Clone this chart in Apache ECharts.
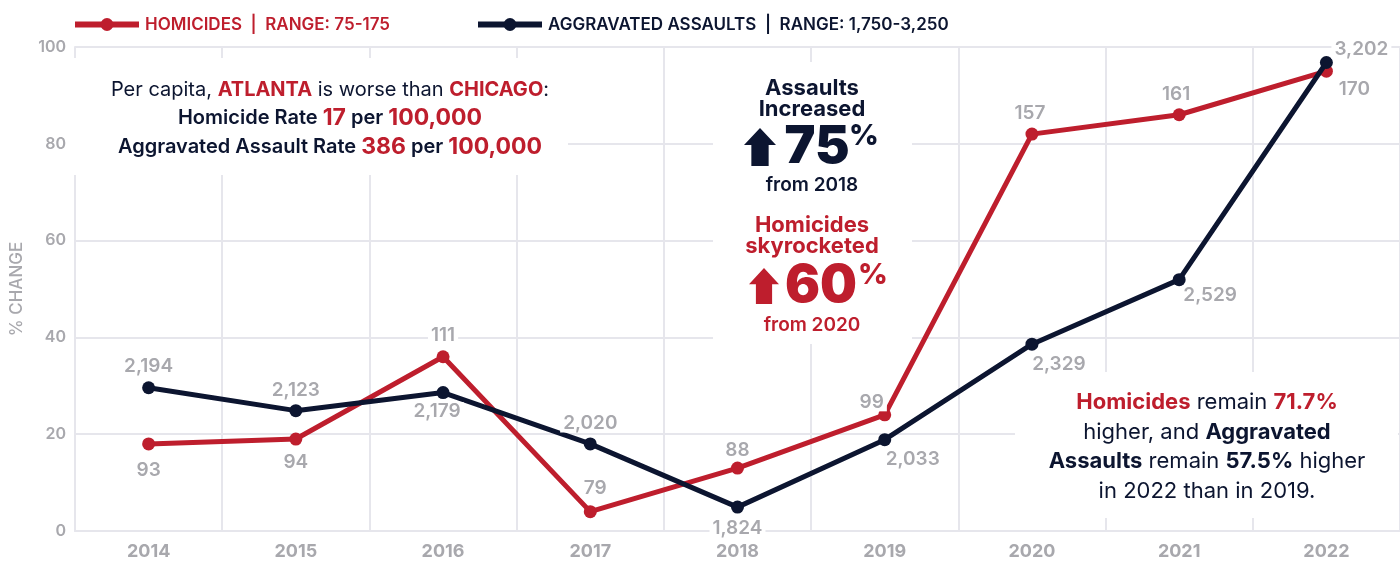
<!DOCTYPE html>
<html><head><meta charset="utf-8">
<script src="https://cdn.jsdelivr.net/npm/echarts@6/dist/echarts.min.js"></script>
<style>html,body{margin:0;padding:0;background:#fff}#c{width:1400px;height:561px}</style>
</head><body><div id="c"></div>
<script>
// ---- data ----
const years = ['2014','2015','2016','2017','2018','2019','2020','2021','2022'];
const homicides = [93, 94, 111, 79, 88, 99, 157, 161, 170];
const assaults = [2194, 2123, 2179, 2020, 1824, 2033, 2329, 2529, 3202];
const homicideRange = [75, 175];
const assaultRange = [1750, 3250];
const yTicks = [0, 20, 40, 60, 80, 100];

// label offsets (style only)
const homOff = [[0,26],[0,23],[0,-21],[5,-23],[0,-18],[-13,-13],[-2,-21],[-3,-20],[28,18]];
const asOff = [[0,-21],[0,-20],[-6,19],[0,-21],[0,21],[28,20],[27,20],[31,16],[35,-13]];

const RED = '#be1e2d', NAVY = '#0c1530', GRAY = '#a8a8ad', GRID = '#e6e6ec';
const FONT = 'Inter, "Open Sans", sans-serif';

function pct(v, r) { return (v - r[0]) / (r[1] - r[0]) * 100; }

function seriesData(vals, range, offs) {
  return vals.map((v, i) => ({
    value: pct(v, range),
    raw: v,
    label: { offset: offs[i] }
  }));
}

const labelBase = {
  show: true, position: 'inside', color: GRAY, fontFamily: FONT, fontSize: 19, fontWeight: 600,
  backgroundColor: '#fff', padding: [0, 3],
  formatter: p => p.data.raw.toLocaleString('en-US')
};

const chart = echarts.init(document.getElementById('c'));

function txt(x, y, rich, text) {
  return {
    type: 'text', x: x, y: y, z: 5,
    style: { text: text, rich: rich, align: 'center', verticalAlign: 'middle', fontFamily: FONT }
  };
}
function arrow(cx, top, bottom, w, color) {
  const hw = w / 2, sw = w * 0.27, headH = (bottom - top) * 0.45;
  return {
    type: 'polygon', z: 5,
    shape: { points: [[cx, top], [cx + hw, top + headH], [cx + sw, top + headH], [cx + sw, bottom], [cx - sw, bottom], [cx - sw, top + headH], [cx - hw, top + headH]] },
    style: { fill: color }
  };
}

const F = FONT;
function st(size, fill, weight) { return { fontFamily: F, fontSize: size, fill: fill, fontWeight: weight }; }
const richA = {
  n: st(20, NAVY, 400),
  r: st(20, RED, 700),
  b: st(20, NAVY, 600),
  R: st(23, RED, 700)
};
const richC = {
  h: st(22, NAVY, 700),
  hr: st(22, RED, 700),
  s: st(19, NAVY, 600),
  sr: st(19, RED, 600),
  big: st(52, NAVY, 900),
  bigr: st(52, RED, 900),
  p: st(29, NAVY, 800),
  pr: st(29, RED, 800)
};
const richB = {
  n: st(22, NAVY, 400),
  b: st(22, NAVY, 700),
  r: st(22, RED, 700)
};

const legendCommon = {
  top: 11, itemWidth: 64, itemHeight: 16, itemGap: 0,
  lineStyle: { width: 6 },
  textStyle: { fontFamily: F, fontSize: 17, fontWeight: 600, padding: [0, 0, 0, 1] }
};

const option = {
  animation: false,
  backgroundColor: '#fff',
  grid: { left: 68, right: 0, top: 47, bottom: 30 },
  legend: [
    Object.assign({ left: 67, data: [{ name: 'HOMICIDES  |  RANGE: 75-175', textStyle: { color: RED } }] }, legendCommon),
    Object.assign({ left: 470, data: [{ name: 'AGGRAVATED ASSAULTS  |  RANGE: 1,750-3,250', textStyle: { color: NAVY } }] }, legendCommon)
  ],
  xAxis: {
    type: 'category', data: years, boundaryGap: true,
    axisLine: { lineStyle: { color: GRID, width: 2 } },
    axisTick: { show: false },
    axisLabel: { color: GRAY, fontFamily: F, fontSize: 18, fontWeight: 700, margin: 12 },
    splitLine: { show: true, lineStyle: { color: GRID, width: 2 } }
  },
  yAxis: {
    type: 'value', min: yTicks[0], max: yTicks[yTicks.length - 1], interval: yTicks[1] - yTicks[0],
    name: '% CHANGE', nameLocation: 'middle', nameGap: 50,
    nameTextStyle: { color: GRAY, fontFamily: F, fontSize: 17, fontWeight: 500 },
    axisLine: { show: true, lineStyle: { color: GRID, width: 2 } },
    axisTick: { show: false },
    axisLabel: { color: GRAY, fontFamily: F, fontSize: 16, fontWeight: 600, margin: 9 },
    splitLine: { show: true, lineStyle: { color: GRID, width: 2 } }
  },
  series: [
    {
      name: 'HOMICIDES  |  RANGE: 75-175', type: 'line', z: 3,
      data: seriesData(homicides, homicideRange, homOff),
      symbol: 'circle', symbolSize: 13,
      lineStyle: { color: RED, width: 5 }, itemStyle: { color: RED },
      label: labelBase
    },
    {
      name: 'AGGRAVATED ASSAULTS  |  RANGE: 1,750-3,250', type: 'line', z: 4,
      data: seriesData(assaults, assaultRange, asOff),
      symbol: 'circle', symbolSize: 13,
      lineStyle: { color: NAVY, width: 5 }, itemStyle: { color: NAVY },
      label: labelBase
    }
  ],
  graphic: [
    { type: 'rect', z: 1, shape: { x: 72, y: 58, width: 496, height: 117 }, style: { fill: '#fff' } },
    { type: 'rect', z: 1, shape: { x: 713, y: 62, width: 199, height: 282 }, style: { fill: '#fff' } },
    { type: 'rect', z: 1, shape: { x: 1015, y: 372, width: 383, height: 146 }, style: { fill: '#fff' } },

    txt(330, 90, richA, '{n|Per capita, }{r|ATLANTA}{n| is worse than }{r|CHICAGO}{n|:}'),
    txt(330, 118, richA, '{b|Homicide Rate }{R|17}{b| per }{R|100,000}'),
    txt(330, 147, richA, '{b|Aggravated Assault Rate }{R|386}{b| per }{R|100,000}'),

    txt(812, 88, richC, '{h|Assaults}'),
    txt(812, 109, richC, '{h|Increased}'),
    arrow(760, 128, 166, 32, NAVY),
    txt(817, 147, richC, '{big|75}'),
    txt(864, 136, richC, '{p|%}'),
    txt(812, 185, richC, '{s|from 2018}'),

    txt(812, 225, richC, '{hr|Homicides}'),
    txt(812, 246, richC, '{hr|skyrocketed}'),
    arrow(764, 268, 304, 30, RED),
    txt(821, 286, richC, '{bigr|60}'),
    txt(873, 275, richC, '{pr|%}'),
    txt(812, 325, richC, '{sr|from 2020}'),

    txt(1207, 402, richB, '{r|Homicides}{n| remain }{r|71.7%}'),
    txt(1207, 432, richB, '{n|higher, and }{b|Aggravated}'),
    txt(1207, 461, richB, '{b|Assaults}{n| remain }{b|57.5%}{n| higher}'),
    txt(1207, 491, richB, '{n|in 2022 than in 2019.}')
  ]
};
chart.setOption(option);
</script>
</body></html>
